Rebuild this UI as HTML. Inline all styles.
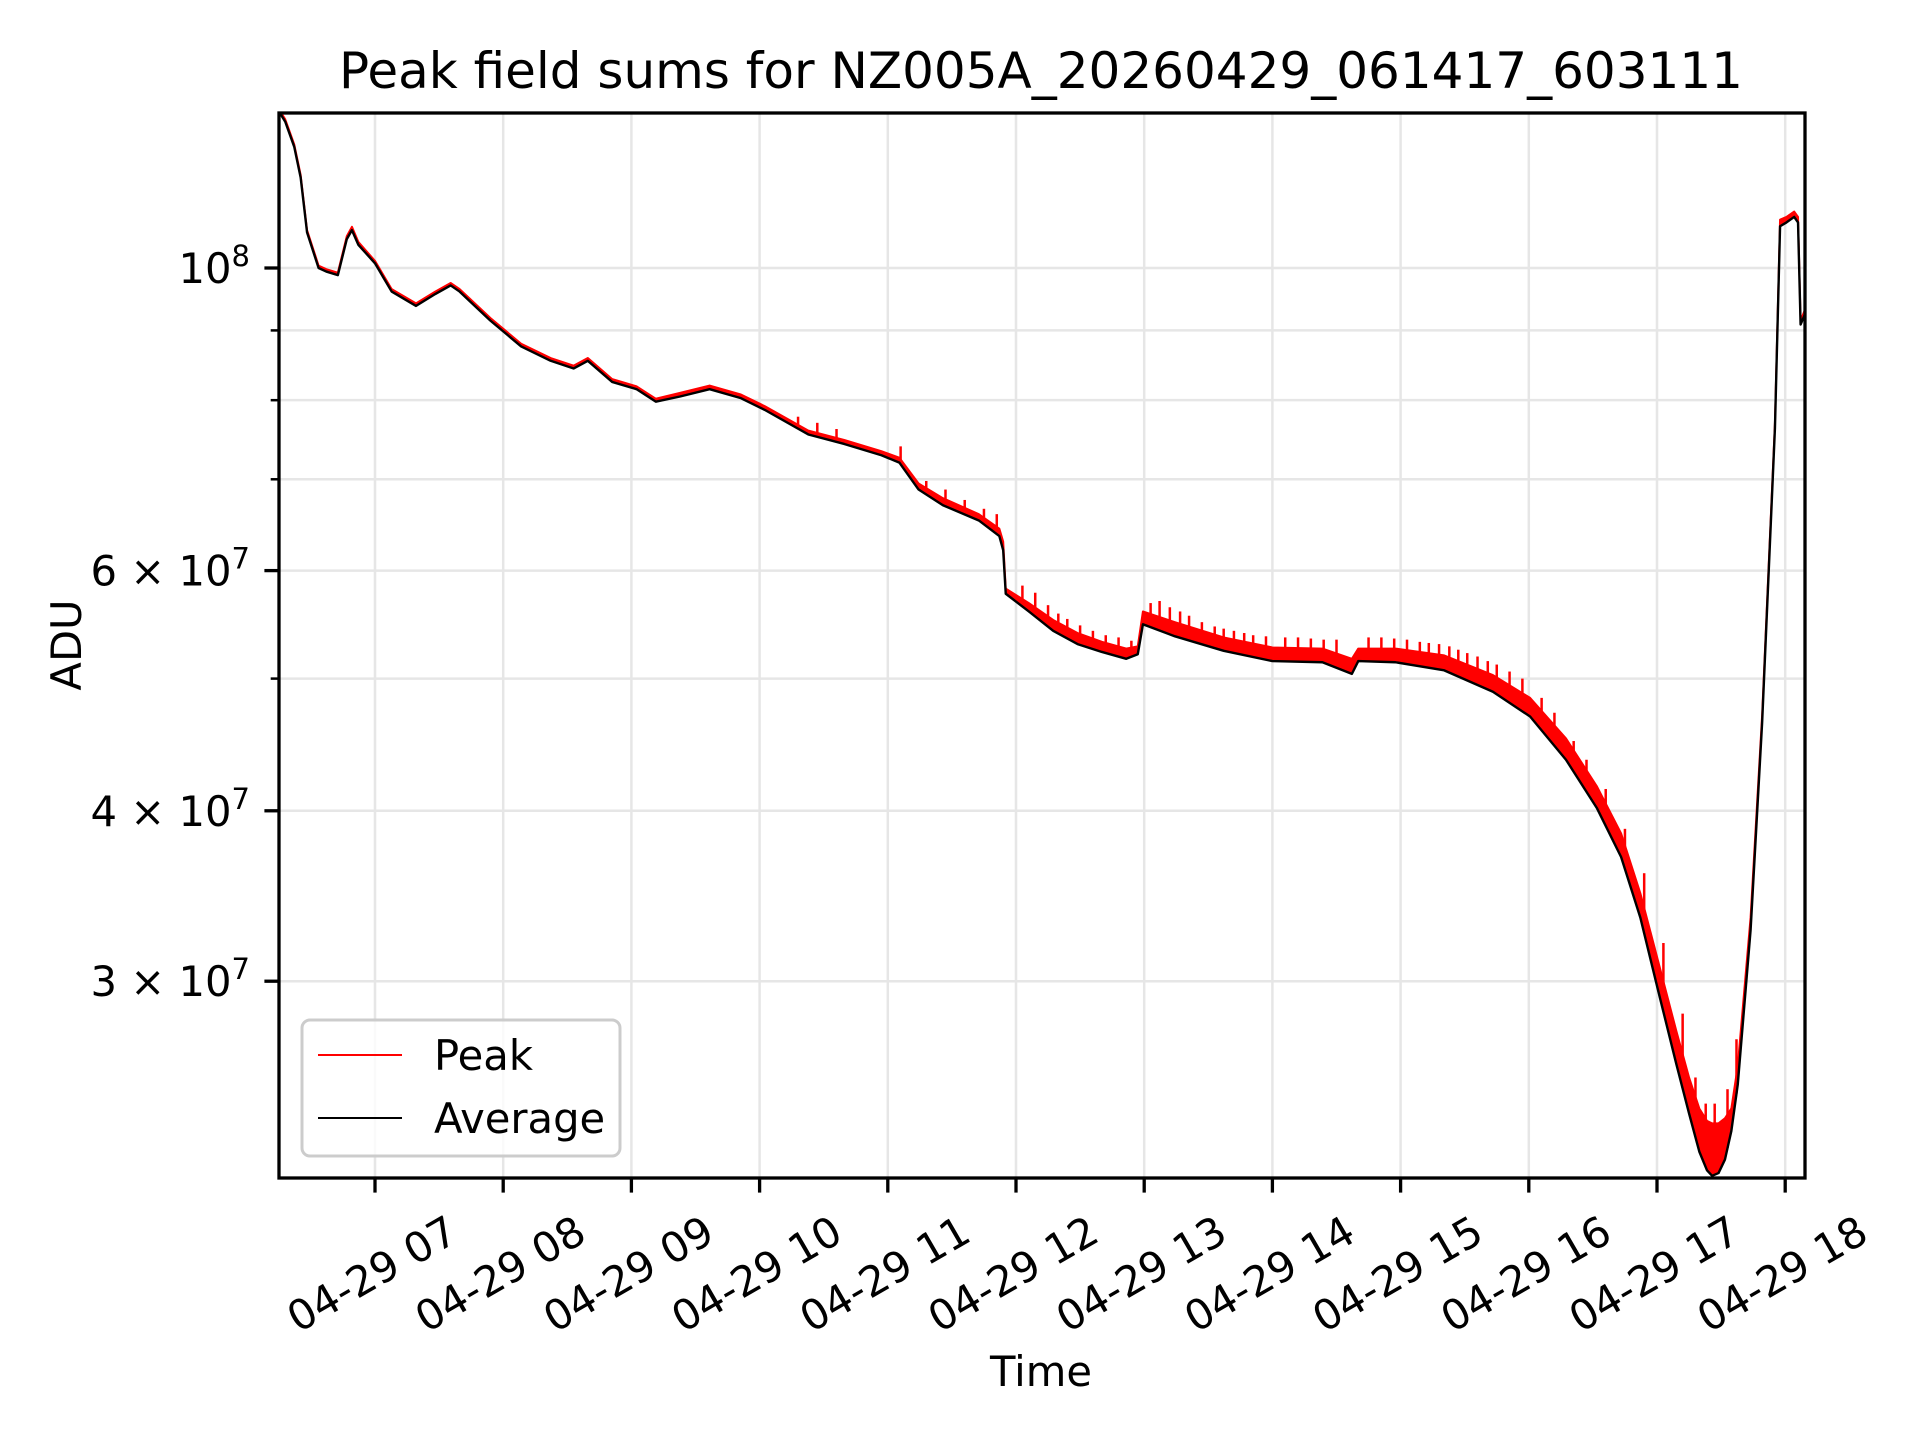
<!DOCTYPE html>
<html><head><meta charset="utf-8"><style>
html,body{margin:0;padding:0;background:#fff}
svg{display:block;font-family:"DejaVu Sans","Liberation Sans",sans-serif}
</style></head><body>
<svg id="chart" width="1920" height="1440" viewBox="0 0 1920 1440">
<rect width="1920" height="1440" fill="#fff"/>
<g id="grid"></g>
<g id="series"></g>
<rect x="279" y="113" width="1526" height="1065" fill="none" stroke="#000" stroke-width="3.3"/>
<g id="xticks"></g>
<g id="yticks"></g>
<text x="1041" y="88" font-size="50" text-anchor="middle">Peak field sums for NZ005A_20260429_061417_603111</text>
<text x="1041" y="1386" font-size="41.7" text-anchor="middle">Time</text>
<text x="0" y="0" font-size="41.7" text-anchor="middle" transform="translate(81,645) rotate(-90)">ADU</text>
<g>
<rect x="302" y="1020" width="318" height="136" rx="8" fill="#fff" fill-opacity="0.8" stroke="#ccc" stroke-width="3"/>
<g>
<line x1="318" y1="1055" x2="402" y2="1055" stroke="#f00" stroke-width="2"/>
<text x="434" y="1070" font-size="41.7">Peak</text></g>
<g>
<line x1="318" y1="1118" x2="402" y2="1118" stroke="#000" stroke-width="2"/>
<text x="434" y="1133" font-size="41.7">Average</text></g>
</g>
</svg>
<script>
// hours since midnight 04-29, values in units of 1e7 ADU
const hours = [6.256,6.30,6.37,6.42,6.47,6.56,6.62,6.71,6.78,6.82,6.87,7.0,7.13,7.32,7.47,7.59,7.66,7.90,8.14,8.37,8.55,8.66,8.85,9.04,9.19,9.38,9.61,9.85,10.04,10.38,10.66,10.95,11.09,11.24,11.43,11.71,11.87,11.90,11.92,12.10,12.29,12.48,12.67,12.86,12.95,12.99,13.24,13.62,14.0,14.39,14.62,14.67,14.96,15.34,15.72,16.01,16.29,16.53,16.72,16.87,17.01,17.15,17.25,17.33,17.39,17.43,17.48,17.53,17.58,17.63,17.73,17.82,17.92,17.96,18.01,18.07,18.10,18.12,18.15];
const averageValues = [13.0,12.8,12.27,11.65,10.62,10.0,9.94,9.88,10.5,10.66,10.4,10.08,9.61,9.38,9.57,9.71,9.61,9.15,8.76,8.55,8.44,8.55,8.25,8.15,7.98,8.05,8.15,8.03,7.87,7.55,7.43,7.29,7.20,6.88,6.70,6.53,6.36,6.21,5.77,5.60,5.42,5.30,5.23,5.17,5.21,5.48,5.37,5.24,5.15,5.14,5.04,5.15,5.14,5.07,4.89,4.69,4.36,4.02,3.70,3.34,2.95,2.61,2.40,2.25,2.18,2.16,2.17,2.22,2.33,2.52,3.27,4.64,7.63,10.73,10.80,10.90,10.80,9.09,9.23];
const peakValues = [13.05,12.85,12.32,11.7,10.66,10.04,9.98,9.92,10.55,10.72,10.45,10.12,9.65,9.42,9.61,9.75,9.65,9.19,8.8,8.59,8.48,8.59,8.29,8.19,8.02,8.1,8.2,8.08,7.92,7.6,7.48,7.34,7.26,6.95,6.78,6.6,6.44,6.3,5.82,5.68,5.52,5.4,5.32,5.26,5.28,5.6,5.5,5.36,5.27,5.26,5.17,5.26,5.26,5.2,5.03,4.84,4.52,4.17,3.85,3.48,3.1,2.76,2.55,2.42,2.37,2.36,2.36,2.38,2.42,2.6,3.34,4.7,7.7,10.85,10.9,11.0,10.9,9.15,9.3];
const spikeHours = [10.3,10.45,10.6,11.1,11.3,11.45,11.6,11.75,11.85,12.05,12.15,12.25,12.33,12.4,12.5,12.6,12.7,12.8,12.9,13.05,13.12,13.2,13.28,13.35,13.45,13.55,13.62,13.7,13.78,13.85,13.95,14.1,14.2,14.3,14.4,14.5,14.75,14.85,14.95,15.05,15.15,15.22,15.3,15.38,15.45,15.52,15.6,15.68,15.75,15.85,15.95,16.1,16.2,16.35,16.45,16.6,16.75,16.9,17.05,17.2,17.3,17.38,17.45,17.55,17.62];
const spikeValues = [7.78,7.7,7.62,7.4,6.98,6.88,6.76,6.66,6.6,5.85,5.78,5.66,5.58,5.53,5.47,5.42,5.38,5.36,5.33,5.68,5.7,5.64,5.6,5.56,5.5,5.46,5.44,5.42,5.4,5.38,5.37,5.36,5.36,5.35,5.34,5.34,5.36,5.36,5.35,5.34,5.32,5.31,5.3,5.28,5.25,5.22,5.19,5.15,5.12,5.06,5.0,4.84,4.72,4.5,4.36,4.15,3.88,3.6,3.2,2.84,2.55,2.44,2.44,2.5,2.72];
const xTickLabels = ["04-29 07","04-29 08","04-29 09","04-29 10","04-29 11","04-29 12","04-29 13","04-29 14","04-29 15","04-29 16","04-29 17","04-29 18"];
const xTickHours = [7,8,9,10,11,12,13,14,15,16,17,18];
const yMajorTicks = [10,6,4,3];
const yMajorLabels = [["10","8"],["6 \u00d7 10","7"],["4 \u00d7 10","7"],["3 \u00d7 10","7"]];
const yMinorTicks = [9,8,7,5];

const NS="http://www.w3.org/2000/svg";
const L=279,R=1805,T=113,B=1178;
function xs(h){return 375+(h-7)*128.2;}
function ys(v){return 268-Math.log10(v/10)*1364;}
function mk(tag,attrs,parent){const e=document.createElementNS(NS,tag);for(const k in attrs)e.setAttribute(k,attrs[k]);parent.appendChild(e);return e;}
function interp(h){for(let i=1;i<hours.length;i++){if(h<=hours[i]){const t=(h-hours[i-1])/(hours[i]-hours[i-1]);return averageValues[i-1]+t*(averageValues[i]-averageValues[i-1]);}}return averageValues[averageValues.length-1];}
const grid=document.getElementById('grid'),ser=document.getElementById('series'),xt=document.getElementById('xticks'),yt=document.getElementById('yticks');
xTickHours.forEach((h,i)=>{const x=xs(h);
 const g=mk('line',{x1:x,x2:x,y1:T,y2:B,stroke:'#e6e6e6','stroke-width':2.5},grid);
 
 
 const t=mk('line',{x1:x,x2:x,y1:B,y2:B+14.6,stroke:'#000','stroke-width':3.3},xt);
 
 
 const tx=mk('text',{x:0,y:0,'font-size':41.7,'text-anchor':'middle','dominant-baseline':'central',transform:`translate(${x-3},1274) rotate(-30)`},xt);
 tx.textContent=xTickLabels[i];
 
 
});
yMajorTicks.forEach((v,i)=>{const y=ys(v);
 const g=mk('line',{x1:L,x2:R,y1:y,y2:y,stroke:'#e6e6e6','stroke-width':2.5},grid);
 
 
 const t=mk('line',{x1:L-14.6,x2:L,y1:y,y2:y,stroke:'#000','stroke-width':3.3},yt);
 
 
 const tx=mk('text',{x:250,y:y+15,'font-size':41.7,'text-anchor':'end'},yt);
 
 
 const a=mk('tspan',{},tx);a.textContent=yMajorLabels[i][0];
 const b=mk('tspan',{'font-size':29,dy:-17},tx);b.textContent=yMajorLabels[i][1];
});
yMinorTicks.forEach(v=>{const y=ys(v);
 const g=mk('line',{x1:L,x2:R,y1:y,y2:y,stroke:'#e6e6e6','stroke-width':2.5},grid);
 
 
 const t=mk('line',{x1:L-8.3,x2:L,y1:y,y2:y,stroke:'#000','stroke-width':2.5},yt);
 
 
});
const clip=mk('clipPath',{id:'pc'},ser);mk('rect',{x:L,y:T,width:R-L,height:B-T},clip);
ser.setAttribute('clip-path','url(#pc)');
let band=hours.map((h,i)=>xs(h)+','+ys(peakValues[i])).join(' ')+' '+hours.slice().reverse().map((h,j)=>xs(h)+','+ys(averageValues[hours.length-1-j])).join(' ');
const bp=mk('polygon',{points:band,fill:'#f00',stroke:'none'},ser);


spikeHours.forEach((h,i)=>{
 const s=mk('line',{x1:xs(h),x2:xs(h),y1:ys(interp(h)),y2:ys(spikeValues[i]),stroke:'#f00','stroke-width':2.5},ser);
 
 
});
const pl=mk('polyline',{points:hours.map((h,i)=>xs(h)+','+ys(peakValues[i])).join(' '),fill:'none',stroke:'#f00','stroke-width':2,'stroke-linejoin':'round'},ser);


const al=mk('polyline',{points:hours.map((h,i)=>xs(h)+','+ys(averageValues[i])).join(' '),fill:'none',stroke:'#000','stroke-width':2.4,'stroke-linejoin':'round'},ser);


</script>
</body></html>
